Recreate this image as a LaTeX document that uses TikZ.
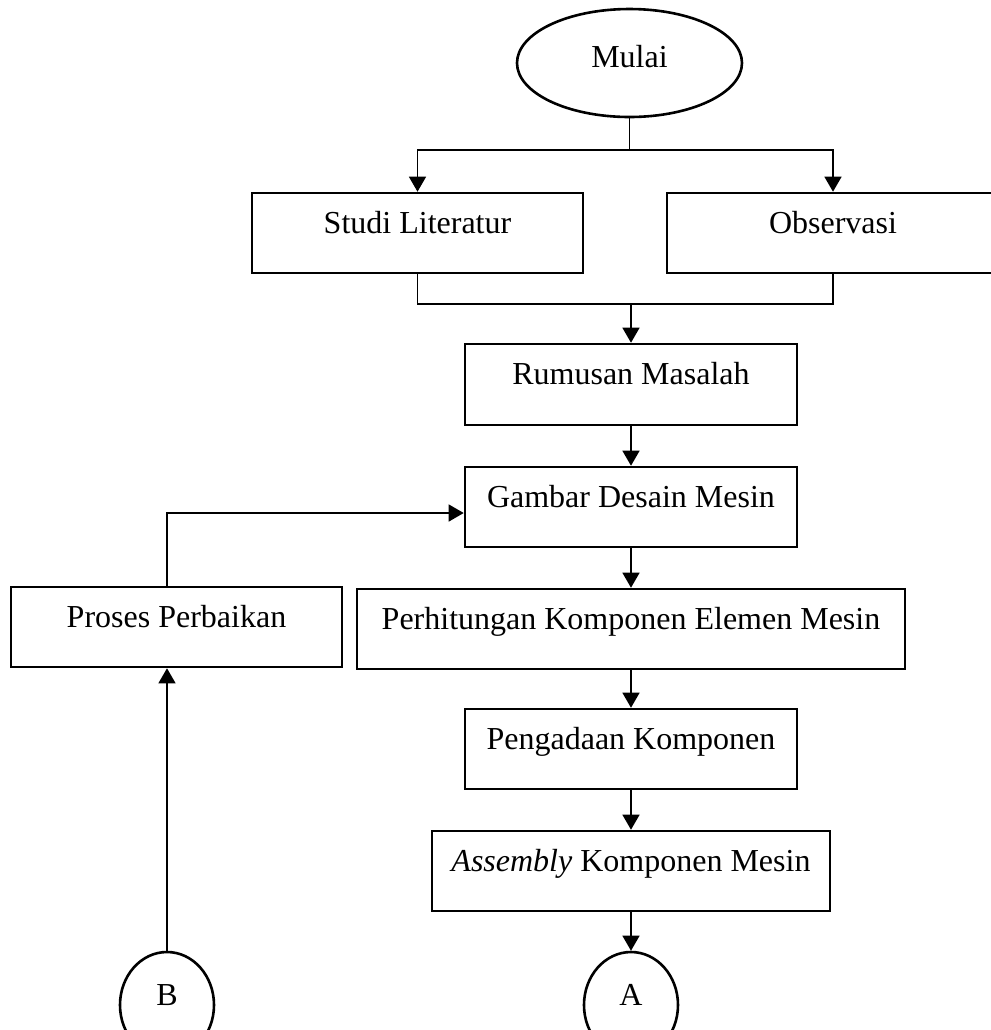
\documentclass[tikz,border=0pt]{standalone}
\usepackage{fontspec}
\setmainfont{Liberation Serif}
\usetikzlibrary{arrows.meta,shapes.geometric}
\begin{document}
\begin{tikzpicture}[x=0.5pt,y=-0.5pt,
  txt/.style={font=\fontsize{16}{19}\selectfont},
  box/.style={txt,draw,line width=1.3pt,inner sep=0pt,minimum height=40pt,
    text height=12pt,text depth=12pt},
  oval/.style={txt,draw,ellipse,line width=1.3pt,inner sep=0pt},
  conn/.style={line width=0.7pt},
  arr/.style={conn,-{Triangle[length=7.5pt,width=8.5pt]}}
]
\useasboundingbox (0,0) rectangle (991,1030);

\node[oval,minimum width=112.5pt,minimum height=54pt,text height=14pt,text depth=10pt] (mulai) at (629.5,63) {Mulai};

\node[box,minimum width=165.5pt] (studi) at (417.5,233) {Studi Literatur};
\node[box,minimum width=166pt] (obs) at (833,233) {Observasi};
\node[box,minimum width=166pt,minimum height=40.5pt] (rumus) at (631,384.5) {Rumusan Masalah};
\node[box,minimum width=166pt] (gambar) at (631,507) {Gambar Desain Mesin};
\node[box,minimum width=274pt] (hitung) at (631,629) {Perhitungan Komponen Elemen Mesin};
\node[box,minimum width=166pt] (adaan) at (631,749) {Pengadaan Komponen};
\node[box,minimum width=199pt] (asm) at (631,871) {\textit{Assembly} Komponen Mesin};
\node[box,minimum width=165.5pt] (proses) at (176.5,627) {Proses Perbaikan};

\node[oval,minimum width=47pt,minimum height=53pt,text height=12pt,text depth=12pt] (A) at (631,1005) {A};
\node[oval,minimum width=47pt,minimum height=53pt,text height=12pt,text depth=12pt] (B) at (167,1005) {B};

\coordinate (split) at (629.5,150);
\coordinate (join) at (631,304);
\coordinate (ret) at (167,513);

\draw[conn] (mulai.south) -- (split);
\draw[arr] (split) -| (studi.north);
\draw[arr] (split) -| (obs.north);
\draw[conn] (studi.south) |- (join) -| (obs.south);
\draw[arr] (join) -- (rumus.north);
\draw[arr] (rumus.south) -- (gambar.north);
\draw[arr] (gambar.south) -- (hitung.north);
\draw[arr] (hitung.south) -- (adaan.north);
\draw[arr] (adaan.south) -- (asm.north);
\draw[arr] (asm.south) -- (A.north);
\draw[arr] (proses.north -| ret) -- (ret) -- (ret -| gambar.west);
\draw[arr] (B.north) -- (B.north |- proses.south);
\end{tikzpicture}
\end{document}
